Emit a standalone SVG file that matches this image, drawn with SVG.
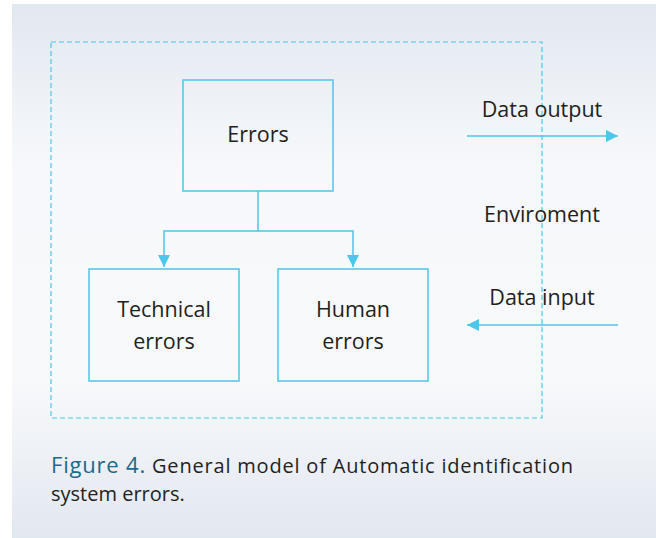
<svg xmlns="http://www.w3.org/2000/svg" width="656" height="538" viewBox="0 0 656 538">
<defs>
<linearGradient id="bg" x1="0" y1="0" x2="0" y2="1">
<stop offset="0" stop-color="#e2e8f0"/>
<stop offset="0.3" stop-color="#f6f8fb"/>
<stop offset="0.7" stop-color="#f8f9fb"/>
<stop offset="1" stop-color="#e2e8f0"/>
</linearGradient>
<marker id="ah" viewBox="0 0 12 12" refX="12" refY="6" markerWidth="12" markerHeight="12" markerUnits="userSpaceOnUse" orient="auto">
<path d="M0,0 L12,6 L0,12 Z" fill="#4cc6ea"/>
</marker>
<style>
.box{fill:none;stroke:#4cc6ea;stroke-width:1.5}
.line{fill:none;stroke:#4cc6ea;stroke-width:1.5}
.lbl{font-family:"Open Sans","Noto Sans",sans-serif;font-size:21.5px;fill:#231f20;text-anchor:middle}
.cap{font-family:"Open Sans","Noto Sans",sans-serif;font-size:20px;fill:#231f20}
.fig{font-size:22px;fill:#1a6a8a}
</style>
</defs>
<rect x="12" y="4" width="644" height="534" fill="url(#bg)"/>
<rect id="environment-boundary" x="51" y="42" width="491" height="376" fill="none" stroke="#4cc6ea" stroke-width="1.2" stroke-dasharray="5 3"/>
<g id="errors">
<rect class="box" x="183" y="80" width="150" height="111"/>
<text class="lbl" x="258" y="142">Errors</text>
</g>
<g id="technical-errors">
<rect class="box" x="89" y="269" width="150" height="112"/>
<text class="lbl" x="164" y="317">Technical</text>
<text class="lbl" x="164" y="349">errors</text>
</g>
<g id="human-errors">
<rect class="box" x="278" y="269" width="150" height="112"/>
<text class="lbl" x="353" y="317">Human</text>
<text class="lbl" x="353" y="349">errors</text>
</g>
<g id="environment-labels">
<text class="lbl" x="542" y="117">Data output</text>
<text class="lbl" x="542" y="222">Enviroment</text>
<text class="lbl" x="542" y="305">Data input</text>
</g>
<g id="connectors">
<path class="line" d="M258,191 V231 H164 V267" marker-end="url(#ah)"/>
<path class="line" d="M258,231 H353 V267" marker-end="url(#ah)"/>
<path class="line" d="M467,136 H618" marker-end="url(#ah)"/>
<path class="line" d="M618,325 H467" marker-end="url(#ah)"/>
</g>
<g id="caption">
<text class="cap" x="51" y="473" textLength="522" lengthAdjust="spacing"><tspan class="fig">Figure 4.</tspan> General model of Automatic identification</text>
<text class="cap" x="51" y="501">system errors.</text>
</g>
</svg>
